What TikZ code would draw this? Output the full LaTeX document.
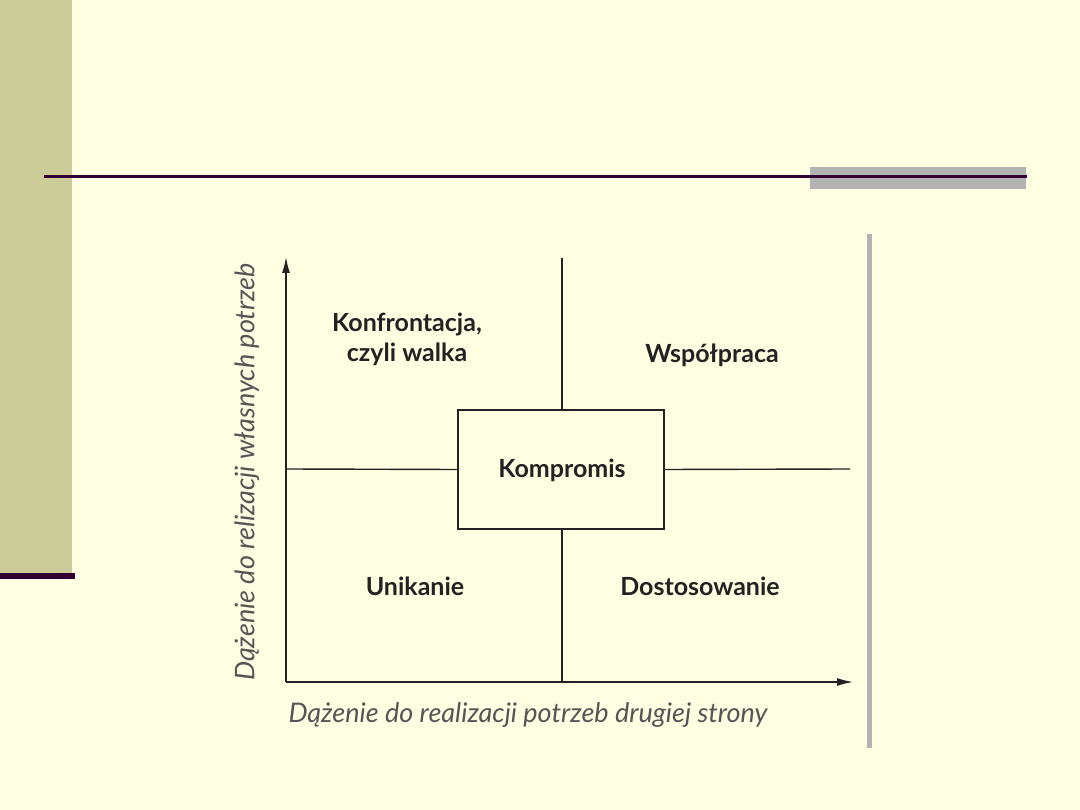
\documentclass[tikz,border=0pt]{standalone}
\usepackage{fontspec}
\setmainfont{Lato}
\usetikzlibrary{arrows.meta}
\definecolor{bg}{HTML}{FEFEE2}
\definecolor{sidebar}{HTML}{CCCC99}
\definecolor{darkline}{HTML}{330033}
\definecolor{graybar}{HTML}{B3B3B3}
\definecolor{ink}{HTML}{222222}
\definecolor{axislbl}{HTML}{555555}
\tikzset{
  quad/.style={font=\fontsize{25}{30}\selectfont\bfseries, text=ink, align=center, inner sep=0pt},
  axlabel/.style={font=\fontsize{27}{32}\selectfont\itshape, text=axislbl, inner sep=0pt},
  chart/.style={draw=ink, line width=1.4pt},
  axarrow/.style={chart, -{Latex[length=16pt,width=8pt]}},
  kbox/.style={draw=ink, line width=1.4pt, minimum width=206pt, minimum height=119pt, inner sep=0pt}
}
\begin{document}
\begin{tikzpicture}[x=1pt,y=-1pt]
\fill[bg] (0,0) rectangle (1080,810);
\useasboundingbox (0,0) rectangle (1080,810);
% slide decoration
\fill[sidebar] (0,0) rectangle (72,573);
\fill[darkline] (0,573) rectangle (75,579);
\fill[graybar] (810,167) rectangle (1026,189);
\fill[darkline] (44,175) rectangle (1027,178);
\fill[graybar] (867,234) rectangle (872,748);
% chart
\coordinate (O) at (286,682);
\coordinate (ytop) at (286,257);
\coordinate (xend) at (853,682);
\coordinate (ctop) at (562,258);
\coordinate (cbot) at (562,682);
\coordinate (hleft) at (286,469);
\coordinate (hright) at (850,469);
\node[kbox] (K) at (561,469.5) {};
\draw[axarrow] (O) -- (ytop);
\draw[axarrow] (O) -- (xend);
\draw[chart] (ctop) -- (K.north -| ctop);
\draw[chart] (K.south -| cbot) -- (cbot);
\draw[chart] (hleft) -- (K.west);
\draw[chart] (K.east) -- (hright);
% labels
\node[quad] (konf) at (407,339) {Konfrontacja,\\czyli walka};
\node[quad] (wsp) at (712,355) {Współpraca};
\node[quad] (komp) at (562,470) {Kompromis};
\node[quad] (unik) at (415,586) {Unikanie};
\node[quad] (dost) at (700,586) {Dostosowanie};
\node[axlabel, rotate=90] (ylab) at (247,472) {Dążenie do relizacji własnych potrzeb};
\node[axlabel] (xlab) at (528,715) {Dążenie do realizacji potrzeb drugiej strony};
\end{tikzpicture}
\end{document}
